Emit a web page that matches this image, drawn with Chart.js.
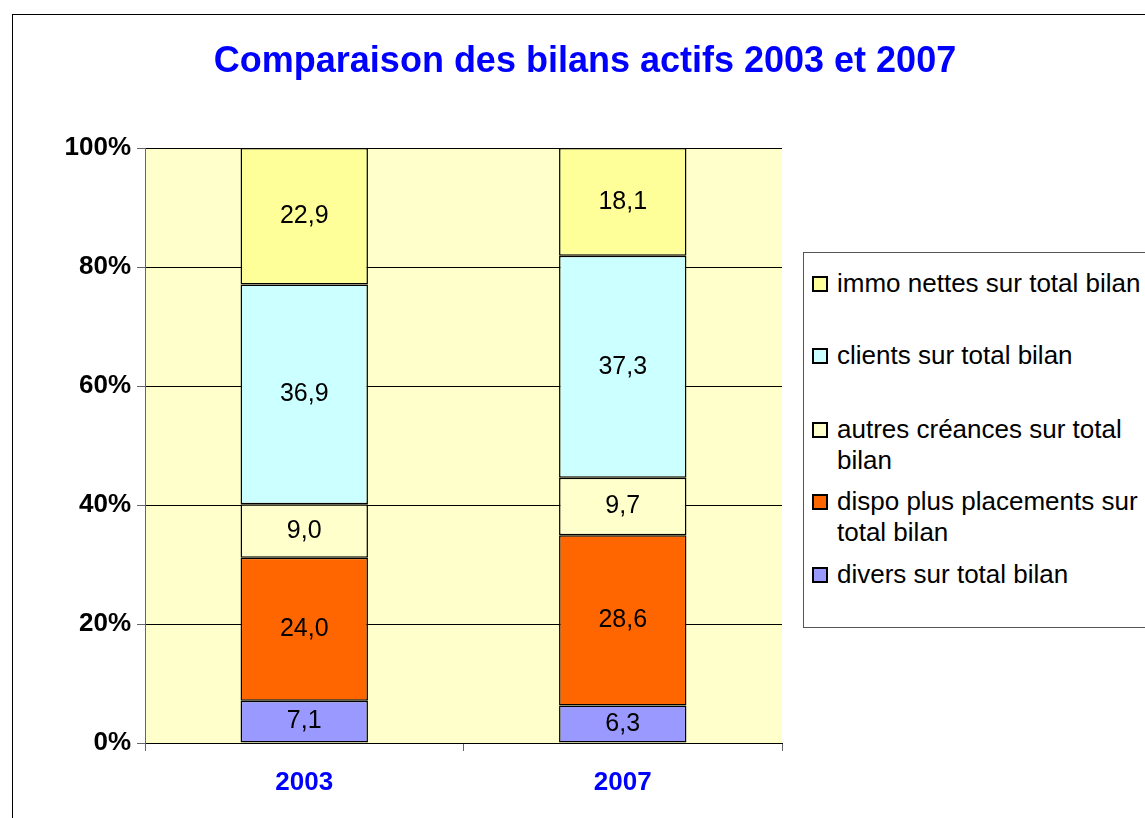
<!DOCTYPE html>
<html>
<head>
<meta charset="utf-8">
<script src="https://cdn.jsdelivr.net/npm/chart.js@4/dist/chart.umd.min.js"></script>
<style>
  html, body { margin: 0; padding: 0; background: #fff; overflow: hidden; }
  #wrap { position: relative; width: 1145px; height: 818px; }
  #frame { position: absolute; left: 12px; top: 14px; width: 1200px; height: 900px; border: 1px solid #000; box-sizing: border-box; }
  canvas { position: absolute; left: 0; top: 0; }
  #legend { position: absolute; left: 803px; top: 252px; width: 400px; height: 376px; border: 1px solid #555; box-sizing: border-box; background: #fff;
    font-family: "Liberation Sans", Arial, sans-serif; font-size: 26px; color: #000; }
  .item { position: absolute; left: 8px; width: 360px; }
  .box { position: absolute; left: 0; top: 3px; width: 16px; height: 16px; border: 2px solid #000; box-sizing: border-box; }
  .txt { position: absolute; left: 25px; width: 315px; line-height: 31px; top: -5px; }
</style>
</head>
<body>
<div id="wrap">
  <div id="frame"></div>
  <canvas id="myChart" width="1145" height="818"></canvas>
  <div id="legend"></div>
</div>
<script>
const title = 'Comparaison des bilans actifs 2003 et 2007';
const years = ['2003', '2007'];

// bottom to top
const divers = [7.1, 6.3];
const dispo = [24.0, 28.6];
const autres = [9.0, 9.7];
const clients = [36.9, 37.3];
const immo = [22.9, 18.1];

const seriesNames = [
  'divers sur total bilan',
  'dispo plus placements sur total bilan',
  'autres créances sur total bilan',
  'clients sur total bilan',
  'immo nettes sur total bilan'
];
const seriesValues = [divers, dispo, autres, clients, immo];
const seriesColors = ['#9999FF', '#FF6600', '#FFFFCC', '#CCFFFF', '#FFFF99'];
const yTicks = [0, 20, 40, 60, 80, 100];

// 100% stacked: share of each year's total
const totals = years.map((y, i) => seriesValues.reduce((s, arr) => s + arr[i], 0));

const datasets = seriesValues.map((vals, k) => ({
  label: seriesNames[k],
  raw: vals,
  data: vals.map((v, i) => v / totals[i] * 100),
  backgroundColor: seriesColors[k],
  borderColor: '#000',
  borderWidth: 1.5,
  borderSkipped: false,
  categoryPercentage: 1,
  barPercentage: 0.4
}));

const FONT = '"Liberation Sans", Arial, sans-serif';

const plotBg = {
  id: 'plotBg',
  beforeDraw(chart) {
    const a = chart.chartArea, c = chart.ctx;
    c.save();
    c.fillStyle = '#FFFFCC';
    c.fillRect(a.left, a.top, a.right - a.left, a.bottom - a.top);
    c.restore();
  }
};

const titleAndLabels = {
  id: 'titleAndLabels',
  afterDatasetsDraw(chart) {
    const c = chart.ctx;
    c.save();
    c.font = 'bold 36px ' + FONT;
    c.fillStyle = '#0000FF';
    c.textAlign = 'center';
    c.textBaseline = 'middle';
    c.fillText(title, 585, 62);
    c.font = '25px ' + FONT;
    c.fillStyle = '#000';
    chart.data.datasets.forEach((ds, k) => {
      chart.getDatasetMeta(k).data.forEach((el, i) => {
        const y = (el.y + el.base) / 2;
        c.fillText(ds.raw[i].toFixed(1).replace('.', ','), el.x, y);
      });
    });
    c.restore();
  }
};

const ctx = document.getElementById('myChart');
new Chart(ctx, {
  type: 'bar',
  data: { labels: years, datasets: datasets },
  options: {
    responsive: false,
    animation: false,
    layout: { padding: { left: 20, top: 148, right: 363, bottom: 0 } },
    plugins: { legend: { display: false }, tooltip: { enabled: false } },
    scales: {
      x: {
        stacked: true,
        grid: { offset: true, drawOnChartArea: false, color: '#666', tickLength: 8 },
        border: { color: '#000', width: 1 },
        ticks: { color: '#0000FF', font: { family: FONT, size: 26, weight: 'bold' }, padding: 16 },
        afterFit(s) { s.height = 75; }
      },
      y: {
        stacked: true,
        min: 0,
        max: 100,
        afterBuildTicks(s) { s.ticks = yTicks.map(v => ({ value: v })); },
        grid: { color: '#000', tickColor: '#666', tickLength: 8 },
        border: { color: '#666', width: 1 },
        ticks: { color: '#000', font: { family: FONT, size: 26, weight: 'bold' }, padding: 6, callback: v => v + '%' },
        afterFit(s) { s.width = 125; }
      }
    }
  },
  plugins: [plotBg, titleAndLabels]
});

// legend, top to bottom as in the reference
const legendTops = [20, 92, 166, 238, 311];
const lg = document.getElementById('legend');
for (let n = 0; n < seriesNames.length; n++) {
  const k = seriesNames.length - 1 - n;
  const it = document.createElement('div');
  it.className = 'item';
  it.style.top = legendTops[n] + 'px';
  const b = document.createElement('div');
  b.className = 'box';
  b.style.background = seriesColors[k];
  const t = document.createElement('div');
  t.className = 'txt';
  t.textContent = seriesNames[k];
  it.appendChild(b);
  it.appendChild(t);
  lg.appendChild(it);
}
</script>
</body>
</html>
